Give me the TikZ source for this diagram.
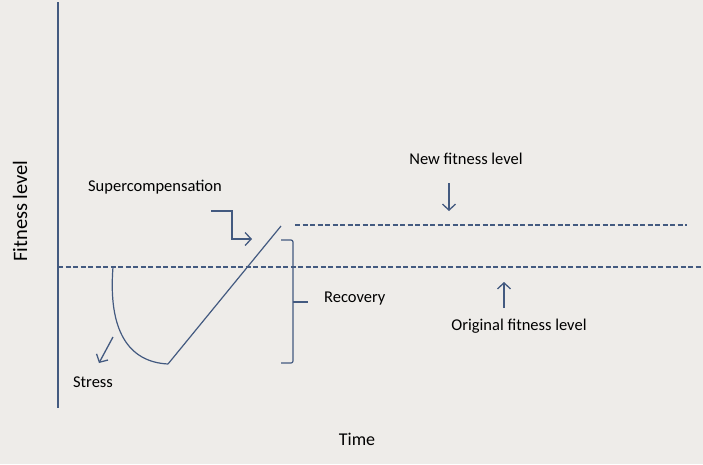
\documentclass[tikz,border=0pt]{standalone}
\usepackage{fontspec}
\setmainfont{Carlito}
\usepackage{xcolor}
\usetikzlibrary{arrows.meta,positioning,calc}
\definecolor{axisblue}{HTML}{435A80}
\definecolor{paper}{HTML}{EEECE9}

\begin{document}
\begin{tikzpicture}[x=1pt, y=-1pt,
    axisline/.style={draw=axisblue, line width=1.8pt},
    levelline/.style={draw=axisblue, line width=1.4pt, dash pattern=on 5pt off 2.5pt},
    curveline/.style={draw=axisblue, line width=1.2pt},
    pointer/.style={-{Straight Barb[length=6pt, width=13pt]}, draw=axisblue, line width=1.3pt},
    lbl/.style={font=\fontsize{16.5}{19}\selectfont, text=black, inner sep=0pt}
]
\fill[paper] (0,0) rectangle (703,464);
\useasboundingbox (0,0) rectangle (703,464);

% Axis and levels
\coordinate (ytop) at (58,2);
\coordinate (ybot) at (58,408);
\draw[axisline] (ytop) -- (ybot);
\coordinate (orig-l) at (58,267);
\coordinate (orig-r) at (703,267);
\draw[levelline] (orig-l) -- (orig-r);
\coordinate (new-l) at (295,225);
\coordinate (new-r) at (687,225);
\draw[levelline] (new-l) -- (new-r);

% Stress dip and recovery
\coordinate (dipstart) at (113,267);
\coordinate (dipbot) at (168,364);
\coordinate (peak) at (281,226);
\draw[curveline] (dipstart) .. controls (108,330) and (128,362) .. (dipbot);
\draw[curveline] (dipbot) -- (peak);

% Recovery bracket
\coordinate (brtop) at (281,240);
\coordinate (brbot) at (281,363);
\coordinate (brmid) at (293,302);
\draw[curveline, rounded corners=2pt] (brtop) -- (293,240) -- (293,363) -- (brbot);
\draw[curveline] (brmid) -- ++(15,0) coordinate (brtip);

% Labels
\node[lbl, font=\fontsize{20.5}{23}\selectfont, rotate=90] (fit) at (20,211) {Fitness level};
\node[lbl, font=\fontsize{18}{21}\selectfont] (time) at (357,439) {Time};
\node[lbl] (super) at (155,187) {Supercompensation};
\node[lbl, anchor=west] (recov) at (324,299) {Recovery};
\node[lbl] (stress) at (93,382) {Stress};
\node[lbl] (newlvl) at (466,159) {New fitness level};
\node[lbl] (origlvl) at (519,326) {Original fitness level};

% Pointers
\coordinate (sc-a) at (211,211);
\coordinate (sc-b) at (252,239);
\draw[pointer] (sc-a) -- (232,211) -- (232,239) -- (sc-b);
\coordinate (st-a) at (113,337);
\coordinate (st-b) at (99,363);
\draw[pointer] (st-a) -- (st-b);
\coordinate (nw-a) at (449,183);
\coordinate (nw-b) at (449,211);
\draw[pointer] (nw-a) -- (nw-b);
\coordinate (or-a) at (504,308);
\coordinate (or-b) at (504,282);
\draw[pointer] (or-a) -- (or-b);
\end{tikzpicture}
\end{document}
